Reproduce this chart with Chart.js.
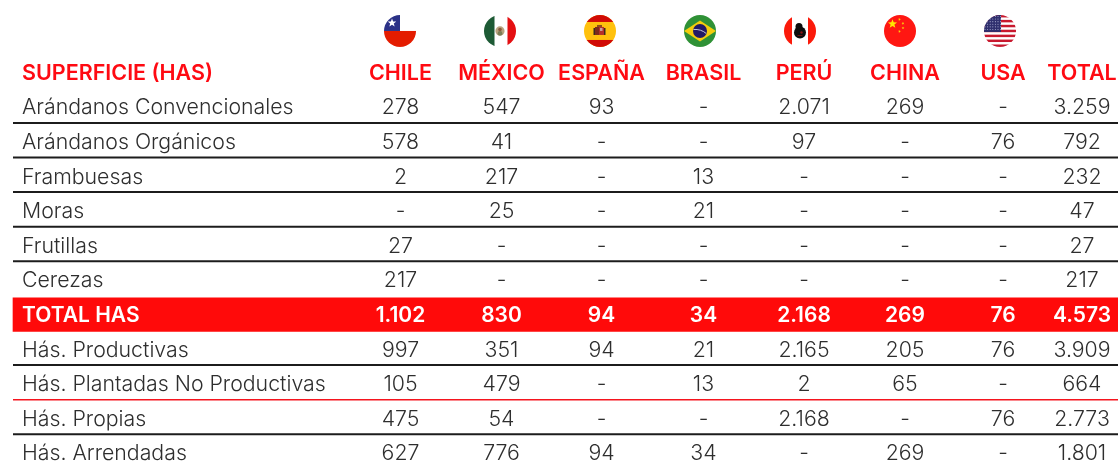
<!DOCTYPE html>
<html>
<head>
<meta charset="utf-8">
<title>Superficie (HAS)</title>
<script src="https://cdn.jsdelivr.net/npm/chart.js@4"></script>
<style>
  html, body { margin: 0; padding: 0; background: #fff; }
  canvas { display: block; }
</style>
</head>
<body>
<canvas id="tabla" width="1118" height="462"></canvas>
<script>
var title = 'SUPERFICIE (HAS)';
var countries = ['CHILE', 'MÉXICO', 'ESPAÑA', 'BRASIL', 'PERÚ', 'CHINA', 'USA', 'TOTAL'];
var rowNames = ['Arándanos Convencionales', 'Arándanos Orgánicos', 'Frambuesas', 'Moras', 'Frutillas', 'Cerezas',
	'TOTAL HAS', 'Hás. Productivas', 'Hás. Plantadas No Productivas', 'Hás. Propias', 'Hás. Arrendadas'];

// null = "-" in the table
var chile = [278, 578, 2, null, 27, 217, 1102, 997, 105, 475, 627];
var mexico = [547, 41, 217, 25, null, null, 830, 351, 479, 54, 776];
var espana = [93, null, null, null, null, null, 94, 94, null, null, 94];
var brasil = [null, null, 13, 21, null, null, 34, 21, 13, null, 34];
var peru = [2071, 97, null, null, null, null, 2168, 2165, 2, 2168, null];
var china = [269, null, null, null, null, null, 269, 205, 65, null, 269];
var usa = [null, 76, null, null, null, null, 76, 76, null, 76, null];
var total = [3259, 792, 232, 47, 27, 217, 4573, 3909, 664, 2773, 1801];
var columns = [chile, mexico, espana, brasil, peru, china, usa, total];

// layout, x scale is in canvas pixels, y scale is in table rows (0 = header)
var columnX = [400.5, 501.5, 601.5, 703.5, 804, 905, 1003, 1082];
var flagX = [400, 500, 600, 700, 800, 900, 1000];
var labelX = 22;
var flagRow = -1.197;
var totalRow = 7;
var blackRules = [1, 2, 3, 4, 5, 8, 10];
var redRules = [9];
var ruleGap = 0.46;
var tableLeft = 13;
var tableRight = 1118;

var RED = '#ff0a0a';
var TEXT = '#2e2e2e';
var LIGHT = '300 21.3px Inter, sans-serif';
var HEADER = '600 21.5px Inter, sans-serif';
var BAND = '600 21px Inter, sans-serif';

function fmt(v) {
	if (v === null) return '-';
	return String(v).replace(/\B(?=(\d{3})+$)/g, '.');
}

function ruleDataset(row, color, width) {
	return {
		type: 'line',
		data: [{x: tableLeft, y: row + ruleGap}, {x: tableRight, y: row + ruleGap}],
		borderColor: color,
		borderWidth: width,
		pointRadius: 0
	};
}

var datasets = [];

// red band behind the total row
datasets.push({
	type: 'bar',
	indexAxis: 'y',
	data: [{y: totalRow, x: [tableLeft, tableRight]}],
	backgroundColor: RED,
	barThickness: 33.5
});

blackRules.forEach(function(r) { datasets.push(ruleDataset(r, '#1c1c1c', 2)); });
redRules.forEach(function(r) { datasets.push(ruleDataset(r, '#f5141e', 1.5)); });

// text cells are invisible points, the plugin writes on top of them
var headerCells = [{x: labelX, y: 0, text: title, align: 'left'}];
countries.forEach(function(c, i) {
	headerCells.push({x: columnX[i], y: 0, text: c, align: 'center'});
});
datasets.push({type: 'scatter', data: headerCells, pointRadius: 0, cellFont: HEADER, cellColor: '#ff0a12'});

var bodyCells = [];
var totalCells = [];
rowNames.forEach(function(name, r) {
	var row = r + 1;
	var list = row === totalRow ? totalCells : bodyCells;
	list.push({x: labelX, y: row, text: name, align: 'left'});
	columns.forEach(function(col, c) {
		list.push({x: columnX[c], y: row, text: fmt(col[r]), align: 'center'});
	});
});
datasets.push({type: 'scatter', data: bodyCells, pointRadius: 0, cellFont: LIGHT, cellColor: TEXT});
datasets.push({type: 'scatter', data: totalCells, pointRadius: 0, cellFont: BAND, cellColor: '#ffffff'});

var flagCells = flagX.map(function(x, i) { return {x: x, y: flagRow, flag: countries[i]}; });
datasets.push({type: 'scatter', data: flagCells, pointRadius: 0, isFlags: true});

function rect(ctx, color, x, y, w, h) {
	ctx.fillStyle = color;
	ctx.fillRect(x, y, w, h);
}

function dot(ctx, color, x, y, r) {
	ctx.fillStyle = color;
	ctx.beginPath();
	ctx.arc(x, y, r, 0, Math.PI * 2);
	ctx.fill();
}

function star(ctx, color, x, y, r, rot) {
	ctx.fillStyle = color;
	ctx.beginPath();
	for (var i = 0; i < 10; i++) {
		var a = rot - Math.PI / 2 + i * Math.PI / 5;
		var d = i % 2 ? r * 0.42 : r;
		ctx.lineTo(x + Math.cos(a) * d, y + Math.sin(a) * d);
	}
	ctx.closePath();
	ctx.fill();
}

// flags are drawn around 0,0 inside a circle of radius 16
var flagPainters = {
	'CHILE': function(ctx) {
		rect(ctx, '#ffffff', -16, -16, 32, 16);
		rect(ctx, '#e41c00', -16, 0, 32, 16);
		rect(ctx, '#2b3187', -16, -16, 16, 16);
		star(ctx, '#ffffff', -8, -8, 4.5, 0);
	},
	'MÉXICO': function(ctx) {
		rect(ctx, '#ffffff', -16, -16, 32, 32);
		rect(ctx, '#1d5a35', -16, -16, 10.5, 32);
		rect(ctx, '#e40f12', 7.5, -16, 8.5, 32);
		dot(ctx, '#b9a27e', 0, 0, 4.6);
		dot(ctx, '#7b7d55', 0, 2.5, 2.4);
		dot(ctx, '#8a5a3c', 0, -1.5, 1.8);
	},
	'ESPAÑA': function(ctx) {
		rect(ctx, '#ffc10d', -16, -16, 32, 32);
		rect(ctx, '#d10a06', -16, -16, 32, 7);
		rect(ctx, '#d10a06', -16, 9, 32, 7);
		rect(ctx, '#7d2a1c', -5, -4, 4, 8);
		rect(ctx, '#b4302a', -1, -4, 5, 8);
		rect(ctx, '#c9a0a0', 0, -3, 2.5, 3);
		rect(ctx, '#3a2a20', 4, -3, 1.5, 7);
		rect(ctx, '#3a2a20', -6.5, -3, 1.5, 7);
		rect(ctx, '#8f4a1c', -3, -6, 5, 2);
	},
	'BRASIL': function(ctx) {
		rect(ctx, '#2f9136', -16, -16, 32, 32);
		ctx.fillStyle = '#f4cd0c';
		ctx.beginPath();
		ctx.moveTo(-16, 0);
		ctx.lineTo(0, -10.5);
		ctx.lineTo(16, 0);
		ctx.lineTo(0, 10.5);
		ctx.closePath();
		ctx.fill();
		dot(ctx, '#221a66', 0, 0, 7);
		ctx.strokeStyle = '#d9d9e8';
		ctx.lineWidth = 0.9;
		ctx.beginPath();
		ctx.moveTo(-6.5, -1.5);
		ctx.quadraticCurveTo(1, -2, 6.2, 2.5);
		ctx.stroke();
	},
	'PERÚ': function(ctx) {
		rect(ctx, '#ffffff', -16, -16, 32, 32);
		rect(ctx, '#fb1a0a', -16, -16, 8, 32);
		rect(ctx, '#fb1a0a', 8, -16, 8, 32);
		dot(ctx, '#0d0d0d', 0, 1.5, 6);
		dot(ctx, '#0d0d0d', -1, -4.5, 3.5);
		dot(ctx, '#8a1414', 1.5, 1.5, 1.2);
		rect(ctx, '#8a1414', -2.5, 4, 5, 0.8);
	},
	'CHINA': function(ctx) {
		rect(ctx, '#ff1712', -16, -16, 32, 32);
		star(ctx, '#ffe600', -7.5, -7, 4.8, 0);
		star(ctx, '#f7d40a', -0.5, -11.5, 1.5, 0.4);
		star(ctx, '#f7d40a', 3, -7.5, 1.5, 0.8);
		star(ctx, '#f7d40a', 3, -3, 1.5, 0);
		star(ctx, '#f7d40a', -0.5, 0.5, 1.5, 0.4);
	},
	'USA': function(ctx) {
		rect(ctx, '#ffffff', -16, -16, 32, 32);
		for (var i = 0; i < 7; i++) {
			rect(ctx, '#c8192e', -16, -16 + i * 4.92, 32, 2.46);
		}
		rect(ctx, '#2f2f6e', -16, -16, 17, 17);
		for (var yy = -14.5; yy < 1; yy += 2.6) {
			for (var xx = -15; xx < 1; xx += 2.6) {
				dot(ctx, '#a9abd0', xx, yy, 0.55);
			}
		}
	}
};

var tablePlugin = {
	id: 'tablePlugin',
	afterDatasetsDraw: function(chart) {
		var ctx = chart.ctx;
		chart.data.datasets.forEach(function(ds, di) {
			var meta = chart.getDatasetMeta(di);
			if (ds.isFlags) {
				meta.data.forEach(function(pt, i) {
					ctx.save();
					ctx.translate(pt.x, pt.y);
					ctx.beginPath();
					ctx.arc(0, 0, 16, 0, Math.PI * 2);
					ctx.clip();
					flagPainters[ds.data[i].flag](ctx);
					ctx.restore();
				});
			} else if (ds.cellFont) {
				ctx.save();
				ctx.font = ds.cellFont;
				ctx.fillStyle = ds.cellColor;
				ctx.textBaseline = 'middle';
				meta.data.forEach(function(pt, i) {
					ctx.textAlign = ds.data[i].align;
					// 1px down, Inter sits a bit high with middle baseline
					ctx.fillText(ds.data[i].text, pt.x, pt.y + 1);
				});
				ctx.restore();
			}
		});
	}
};

new Chart(document.getElementById('tabla'), {
	type: 'scatter',
	data: {datasets: datasets},
	options: {
		responsive: false,
		animation: false,
		events: [],
		layout: {padding: 0},
		plugins: {legend: {display: false}, tooltip: {enabled: false}},
		scales: {
			x: {type: 'linear', display: false, min: 0, max: 1118, offset: false},
			y: {type: 'linear', display: false, reverse: true, min: -2.092, max: 11.26, offset: false}
		}
	},
	plugins: [tablePlugin]
});
</script>
</body>
</html>
